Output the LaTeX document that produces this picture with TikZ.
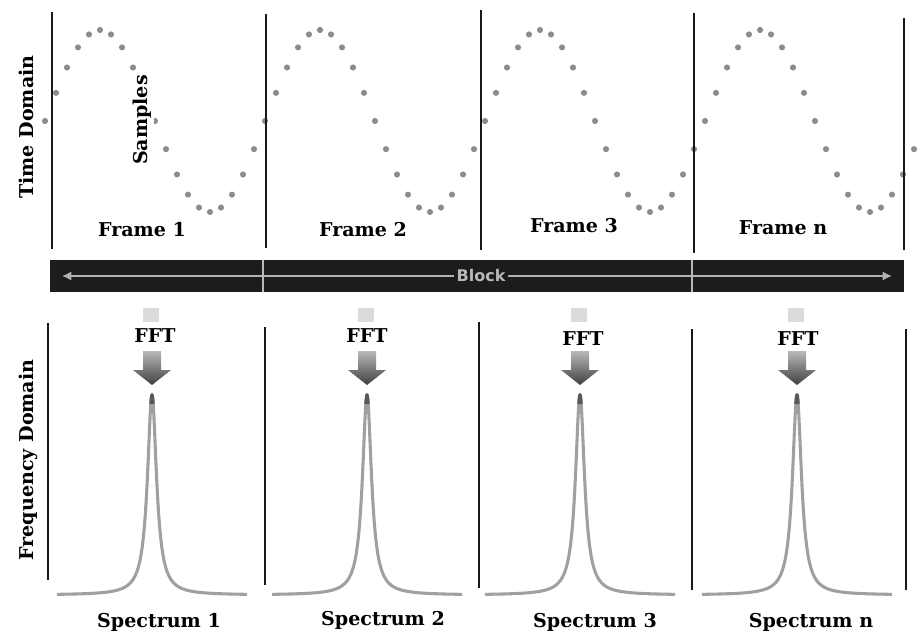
\documentclass[tikz,border=0pt]{standalone}
\usepackage{fontspec}
\setmainfont{DejaVu Serif}
\newfontfamily\blockfont{DejaVu Sans}
\usetikzlibrary{arrows.meta}
\definecolor{dotc}{HTML}{8C8C8C}
\definecolor{specc}{HTML}{A0A0A0}
\definecolor{barc}{HTML}{1C1C1C}
\begin{document}
\begin{tikzpicture}[x=0.75pt,y=-0.75pt,
  lbl/.style={font=\fontsize{14.3}{16}\selectfont\bfseries, inner sep=1pt},
  divider/.style={line width=2.2pt, black!90},
  sample/.style={fill=dotc},
  spec/.style={specc, line width=2.3pt, line join=round},
  fftarrow/.style={top color=gray!55, bottom color=black!75, draw=none},
  ghost/.style={fill=gray!28, draw=none}]
\useasboundingbox (0,0) rectangle (920,635);

% ---- time-domain samples ----
\foreach \k in {0,...,79}
  \fill[sample] ({45+11*\k},{121-91*sin(18*\k)}) circle (2.3pt);

% ---- dividers ----
\foreach \x/\a/\b in {52/12/249, 266/14/248, 481/10/250, 694/13/253, 904/18/250}
  \draw[divider] (\x,\a) -- (\x,\b);
\foreach \x/\a/\b in {48/323/580, 265/327/585, 479/322/588, 692/329/590, 906/329/590}
  \draw[divider] (\x,\a) -- (\x,\b);

% ---- axis labels ----
\node[lbl, rotate=90] (td) at (26,127) {Time Domain};
\node[lbl, rotate=90] (fd) at (28,460) {Frequency Domain};
\node[lbl, rotate=90, fill=white, inner sep=2pt] (smp) at (142,120) {Samples};

% ---- frame labels ----
\node[lbl] (f1) at (142,230) {Frame 1};
\node[lbl] (f2) at (363,230) {Frame 2};
\node[lbl] (f3) at (574,226) {Frame 3};
\node[lbl] (fn) at (783,228) {Frame n};

% ---- block bar ----
\fill[barc] (50,260) rectangle (904,292);
\draw[gray!60, line width=2.2pt, {Latex[length=7pt,width=7pt]}-{Latex[length=7pt,width=7pt]}] (62,276) -- (892,276);
\draw[gray!55, line width=1pt] (263,260) -- (263,292);
\draw[gray!55, line width=1pt] (692,260) -- (692,292);
\node[fill=barc, text=gray!55, font=\blockfont\bfseries\fontsize{12}{13}\selectfont, inner sep=2pt] (blk) at (481,276) {Block};

% ---- FFT arrows and labels ----
\foreach \c/\lx/\ly [count=\i] in {152/155/336, 367/367/336, 580/583/339, 797/798/339} {
  \node[lbl] (fft\i) at (\lx,\ly) {FFT};
  \fill[ghost] (\c-9,308) rectangle (\c+7,322);
  \shade[fftarrow] (\c-9,351) -- (\c+9,351) -- (\c+9,370) -- (\c+19,370)
     -- (\c,385) -- (\c-19,370) -- (\c-9,370) -- cycle;
}

% ---- spectra ----
\foreach \c in {152,367,580,797} {
  \draw[spec] plot[domain=-95:95, samples=381] ({\c+\x},{595-200/(1+(\x/5.5)^2)});
  \draw[black!65, line width=2.3pt] plot[domain=-1.2:1.2, samples=20] ({\c+\x},{595-200/(1+(\x/5.5)^2)});
}

% ---- spectrum labels ----
\node[lbl] (s1) at (159,622) {Spectrum 1};
\node[lbl] (s2) at (383,620) {Spectrum 2};
\node[lbl] (s3) at (595,622) {Spectrum 3};
\node[lbl] (sn) at (811,622) {Spectrum n};
\end{tikzpicture}
\end{document}
